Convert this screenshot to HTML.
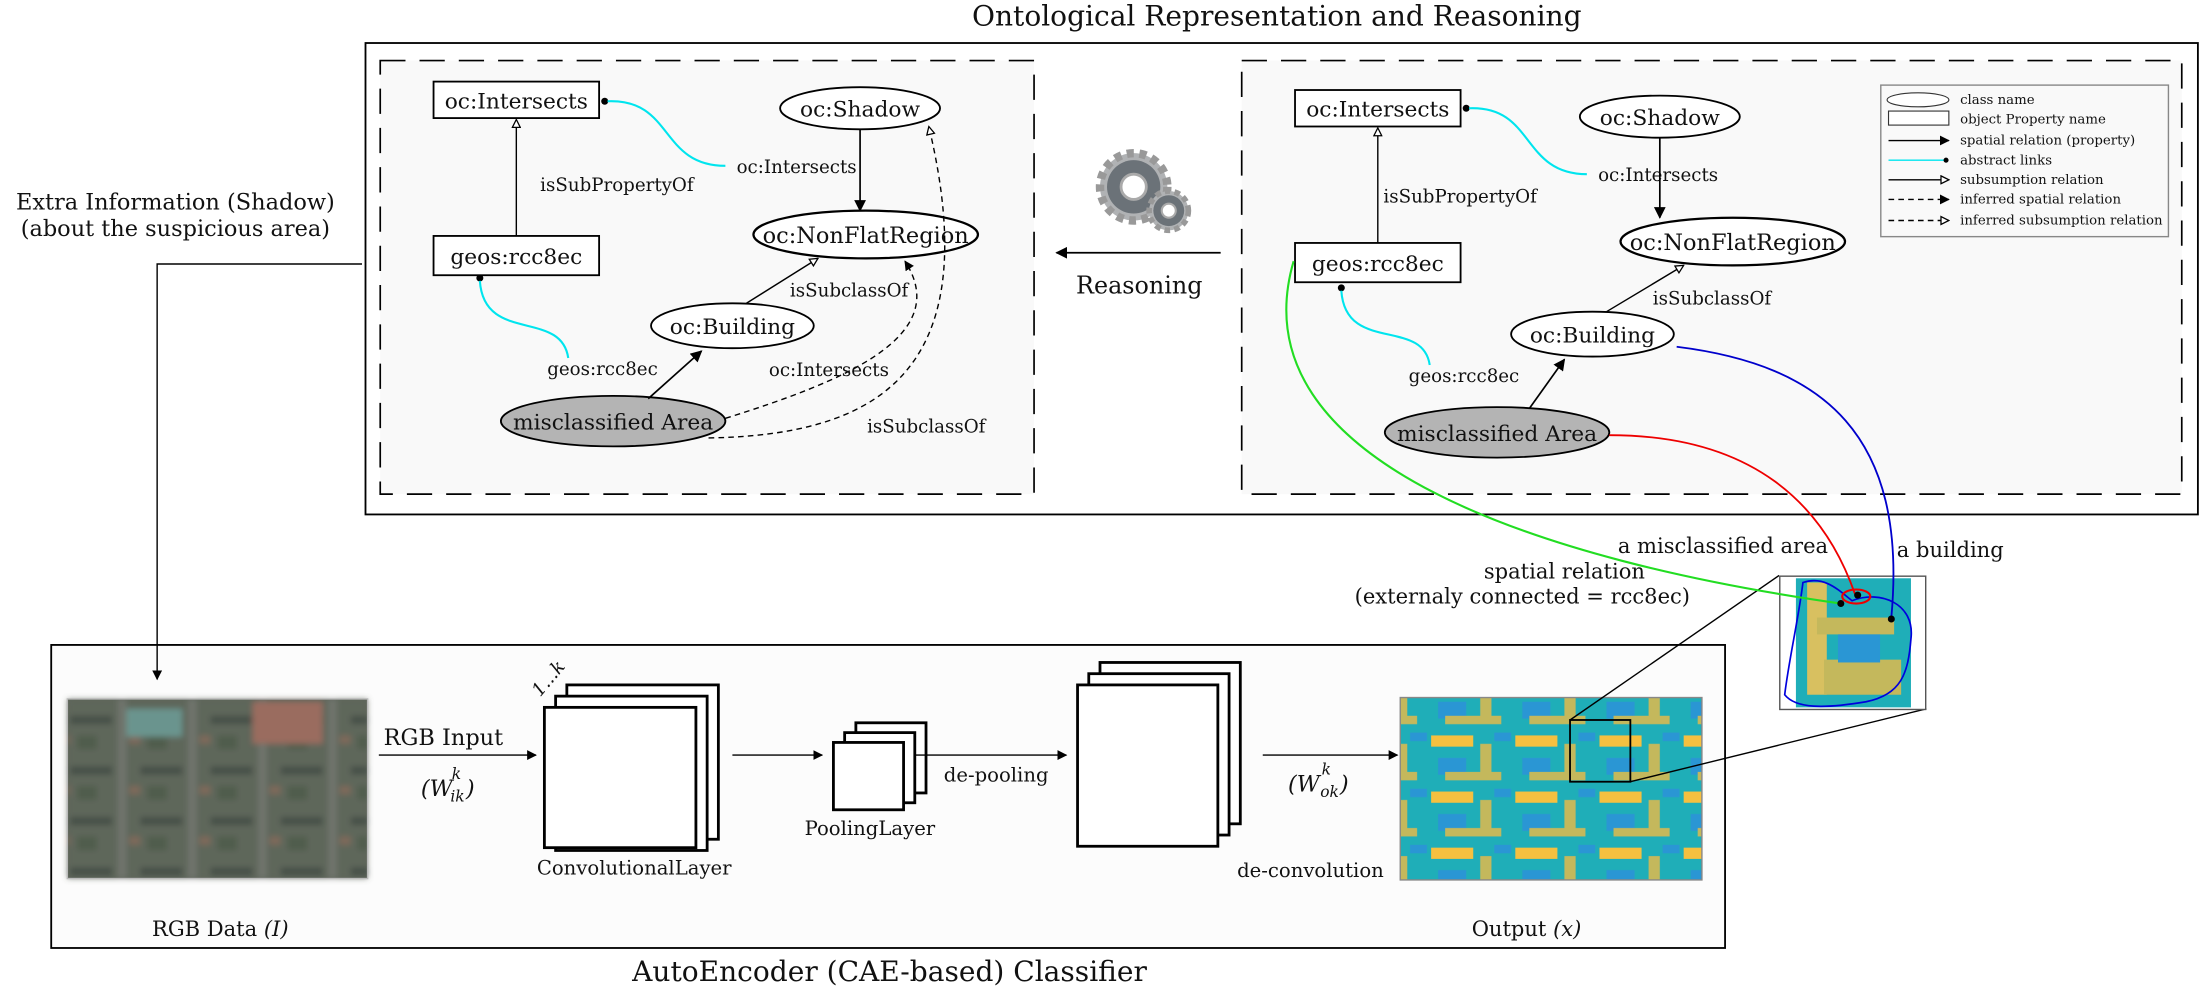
<!DOCTYPE html>
<html><head><meta charset="utf-8"><style>
html,body{margin:0;padding:0;background:#fff;}
svg{display:block;}
text{font-family:"DejaVu Serif","Liberation Serif",serif;fill:#111;}
</style></head><body>
<svg width="2200" height="991" viewBox="0 0 1568 706" xmlns="http://www.w3.org/2000/svg">
<defs>
<marker id="af" viewBox="0 0 10 10" refX="9" refY="5" markerWidth="7" markerHeight="7" orient="auto"><path d="M0,0 L10,5 L0,10 z" fill="#000"/></marker>
<marker id="ah" viewBox="0 0 10 10" refX="9" refY="5" markerWidth="7" markerHeight="7" orient="auto"><path d="M1,1 L9,5 L1,9 z" fill="#fff" stroke="#000" stroke-width="1.3"/></marker>
<filter id="blur"><feGaussianBlur stdDeviation="2"/></filter>
<pattern id="rgb" width="50" height="36" patternUnits="userSpaceOnUse">
<rect width="50" height="36" fill="#5d6558"/>
<rect x="0" y="6" width="30" height="6" fill="#3e4540"/><rect x="34" y="0" width="6" height="36" fill="#777b74"/>
<rect x="5" y="20" width="14" height="10" fill="#4b5a45"/><rect x="42" y="20" width="8" height="6" fill="#8a6a5a"/>
</pattern>
<pattern id="out" width="60" height="40" patternUnits="userSpaceOnUse">
<rect width="60" height="40" fill="#1faeb8"/>
<rect x="0" y="4" width="30" height="8" fill="#f5c040"/><rect x="35" y="10" width="8" height="25" fill="#c4b85c"/>
<rect x="5" y="20" width="20" height="12" fill="#2a96d4"/><rect x="10" y="30" width="40" height="6" fill="#c4b85c"/>
<rect x="45" y="2" width="12" height="6" fill="#2a96d4"/>
</pattern>
</defs>

<text x="910" y="18" font-size="20" text-anchor="middle">Ontological Representation and Reasoning</text>

<rect x="260.5" y="30.5" width="1306" height="336" fill="#fff" stroke="#000" stroke-width="1.3"/>
<rect x="271" y="43" width="466" height="309" fill="#f9f9f9" stroke="#000" stroke-width="1.2" stroke-dasharray="18,10"/>
<rect x="885" y="43" width="670" height="309" fill="#f9f9f9" stroke="#000" stroke-width="1.2" stroke-dasharray="18,10"/>

<!-- Left graph -->
<g>
<rect x="309" y="58" width="118" height="26" fill="#fff" stroke="#000" stroke-width="1.3"/>
<text x="368" y="77" font-size="15.5" text-anchor="middle">oc:Intersects</text>
<circle cx="431" cy="72" r="2.5"/>
<path d="M433,72 C480,70 470,118 517,118" fill="none" stroke="#00e5ee" stroke-width="1.5"/>
<text x="525" y="123" font-size="13">oc:Intersects</text>
<ellipse cx="613" cy="77" rx="57" ry="15" fill="#fff" stroke="#000" stroke-width="1.3"/>
<text x="613" y="83" font-size="15.5" text-anchor="middle">oc:Shadow</text>
<line x1="613" y1="92" x2="613" y2="150" stroke="#000" stroke-width="1.2" marker-end="url(#af)"/>
<ellipse cx="617" cy="167" rx="80" ry="17" fill="#fff" stroke="#000" stroke-width="1.6"/>
<text x="617" y="173" font-size="16" text-anchor="middle">oc:NonFlatRegion</text>
<line x1="368" y1="168" x2="368" y2="85" stroke="#000" stroke-width="1" marker-end="url(#ah)"/>
<text x="385" y="136" font-size="13">isSubPropertyOf</text>
<rect x="309" y="168" width="118" height="28" fill="#fff" stroke="#000" stroke-width="1.3"/>
<text x="368" y="188" font-size="15.5" text-anchor="middle">geos:rcc8ec</text>
<circle cx="342" cy="198" r="2.5"/>
<path d="M342,200 C345,245 400,220 405,255" fill="none" stroke="#00e5ee" stroke-width="1.5"/>
<text x="390" y="267" font-size="13">geos:rcc8ec</text>
<ellipse cx="522" cy="232" rx="58" ry="16" fill="#fff" stroke="#000" stroke-width="1.3"/>
<text x="522" y="238" font-size="15.5" text-anchor="middle">oc:Building</text>
<line x1="532" y1="216" x2="583" y2="184" stroke="#000" stroke-width="1" marker-end="url(#ah)"/>
<text x="563" y="211" font-size="13">isSubclassOf</text>
<ellipse cx="437" cy="300" rx="80" ry="18" fill="#b4b4b4" stroke="#000" stroke-width="1.3"/>
<text x="437" y="306" font-size="15.5" text-anchor="middle">misclassified Area</text>
<line x1="462" y1="284" x2="500" y2="250" stroke="#000" stroke-width="1.2" marker-end="url(#af)"/>
<path d="M517,298 C600,272 680,240 645,186" fill="none" stroke="#000" stroke-width="1" stroke-dasharray="4,3" marker-end="url(#af)"/>
<text x="548" y="268" font-size="13">oc:Intersects</text>
<path d="M505,312 C620,310 705,270 662,90" fill="none" stroke="#000" stroke-width="1" stroke-dasharray="4,3" marker-end="url(#ah)"/>
<text x="618" y="308" font-size="13">isSubclassOf</text>
</g>

<!-- Gears -->
<g transform="translate(808,133)">
<circle cx="0" cy="0" r="24" fill="#b0b2b4" stroke="#999" stroke-width="6" stroke-dasharray="5,4"/>
<circle cx="0" cy="0" r="19" fill="#6b7278"/>
<circle cx="0" cy="0" r="9" fill="#fff" stroke="#aaa" stroke-width="2"/>
<circle cx="25" cy="17" r="14" fill="#b0b2b4" stroke="#999" stroke-width="4" stroke-dasharray="4,3"/>
<circle cx="25" cy="17" r="11" fill="#6b7278"/>
<circle cx="25" cy="17" r="5" fill="#fff" stroke="#aaa" stroke-width="1.5"/>
</g>
<line x1="870" y1="180" x2="753" y2="180" stroke="#000" stroke-width="1.2" marker-end="url(#af)"/>
<text x="812" y="209" font-size="17" text-anchor="middle">Reasoning</text>

<!-- Right graph -->
<g>
<rect x="923" y="64" width="118" height="26" fill="#fff" stroke="#000" stroke-width="1.3"/>
<text x="982" y="83" font-size="15.5" text-anchor="middle">oc:Intersects</text>
<circle cx="1045" cy="77" r="2.5"/>
<path d="M1047,77 C1094,75 1084,124 1131,124" fill="none" stroke="#00e5ee" stroke-width="1.5"/>
<text x="1139" y="129" font-size="13">oc:Intersects</text>
<ellipse cx="1183" cy="83" rx="57" ry="15" fill="#fff" stroke="#000" stroke-width="1.3"/>
<text x="1183" y="89" font-size="15.5" text-anchor="middle">oc:Shadow</text>
<line x1="1183" y1="98" x2="1183" y2="155" stroke="#000" stroke-width="1.2" marker-end="url(#af)"/>
<ellipse cx="1235" cy="172" rx="80" ry="17" fill="#fff" stroke="#000" stroke-width="1.6"/>
<text x="1235" y="178" font-size="16" text-anchor="middle">oc:NonFlatRegion</text>
<line x1="982" y1="173" x2="982" y2="91" stroke="#000" stroke-width="1" marker-end="url(#ah)"/>
<text x="986" y="144" font-size="13">isSubPropertyOf</text>
<rect x="923" y="173" width="118" height="28" fill="#fff" stroke="#000" stroke-width="1.3"/>
<text x="982" y="193" font-size="15.5" text-anchor="middle">geos:rcc8ec</text>
<circle cx="956" cy="205" r="2.5"/>
<path d="M956,207 C959,252 1014,226 1019,260" fill="none" stroke="#00e5ee" stroke-width="1.5"/>
<text x="1004" y="272" font-size="13">geos:rcc8ec</text>
<ellipse cx="1135" cy="238" rx="58" ry="16" fill="#fff" stroke="#000" stroke-width="1.3"/>
<text x="1135" y="244" font-size="15.5" text-anchor="middle">oc:Building</text>
<line x1="1145" y1="222" x2="1200" y2="189" stroke="#000" stroke-width="1" marker-end="url(#ah)"/>
<text x="1178" y="217" font-size="13">isSubclassOf</text>
<ellipse cx="1067" cy="308" rx="80" ry="18" fill="#b4b4b4" stroke="#000" stroke-width="1.3"/>
<text x="1067" y="314" font-size="15.5" text-anchor="middle">misclassified Area</text>
<line x1="1090" y1="291" x2="1115" y2="256" stroke="#000" stroke-width="1.2" marker-end="url(#af)"/>
</g>

<!-- Legend -->
<g font-size="9.5">
<rect x="1340.5" y="60.5" width="205" height="108" fill="#f9f9f9" stroke="#888" stroke-width="1"/>
<ellipse cx="1367" cy="71" rx="22" ry="5" fill="#fff" stroke="#333" stroke-width="0.8"/>
<text x="1397" y="74">class name</text>
<rect x="1346" y="79" width="43" height="10" fill="#fff" stroke="#333" stroke-width="0.8"/>
<text x="1397" y="88">object Property name</text>
<line x1="1346" y1="100" x2="1389" y2="100" stroke="#000" stroke-width="1" marker-end="url(#af)"/>
<text x="1397" y="103">spatial relation (property)</text>
<line x1="1346" y1="114" x2="1387" y2="114" stroke="#00e5ee" stroke-width="1"/><circle cx="1387" cy="114" r="1.8"/>
<text x="1397" y="117">abstract links</text>
<line x1="1346" y1="128" x2="1389" y2="128" stroke="#000" stroke-width="1" marker-end="url(#ah)"/>
<text x="1397" y="131">subsumption relation</text>
<line x1="1346" y1="142" x2="1389" y2="142" stroke="#000" stroke-width="1" stroke-dasharray="4,3" marker-end="url(#af)"/>
<text x="1397" y="145">inferred spatial relation</text>
<line x1="1346" y1="157" x2="1389" y2="157" stroke="#000" stroke-width="1" stroke-dasharray="4,3" marker-end="url(#ah)"/>
<text x="1397" y="160">inferred subsumption relation</text>
</g>

<!-- Extra info -->
<text x="125" y="149" font-size="16" text-anchor="middle">Extra Information (Shadow)</text>
<text x="125" y="168" font-size="16" text-anchor="middle">(about the suspicious area)</text>

<!-- Bottom box -->
<rect x="36.5" y="459.5" width="1193" height="216" fill="#fcfcfc" stroke="#000" stroke-width="1.3"/>
<polyline points="258,188 112,188 112,484" fill="none" stroke="#000" stroke-width="1" marker-end="url(#af)"/>
<text x="634" y="699" font-size="20" text-anchor="middle">AutoEncoder (CAE-based) Classifier</text>

<g>
<rect x="48" y="498" width="214" height="128" fill="#5f665c"/>
<g filter="url(#blur)">
<rect x="48" y="498" width="214" height="128" fill="url(#rgb)" opacity="0.7"/>
<rect x="180" y="500" width="50" height="30" fill="#9a6c5e"/>
<rect x="90" y="505" width="40" height="20" fill="#6a948e"/>
</g>
<rect x="48" y="498" width="214" height="128" fill="none" stroke="#bbb"/>
</g>
<text x="157" y="667" font-size="15" text-anchor="middle">RGB Data <tspan font-style="italic">(I)</tspan></text>

<line x1="270" y1="538" x2="382" y2="538" stroke="#000" stroke-width="1" marker-end="url(#af)"/>
<text x="316" y="531" font-size="16" text-anchor="middle">RGB Input</text>
<text x="300" y="567" font-size="16" font-style="italic">(W</text>
<text x="322" y="555" font-size="11" font-style="italic">k</text>
<text x="321" y="571" font-size="11" font-style="italic">ik</text>
<text x="332" y="567" font-size="16" font-style="italic">)</text>

<g fill="#fff" stroke="#000" stroke-width="2">
<rect x="404" y="488" width="108" height="110"/>
<rect x="396" y="496" width="108" height="110"/>
<rect x="388" y="504" width="108" height="100"/>
</g>
<text x="385" y="497" font-size="13" font-style="italic" transform="rotate(-50 385 497)">1...k</text>
<text x="452" y="623" font-size="14" text-anchor="middle">ConvolutionalLayer</text>

<line x1="522" y1="538" x2="586" y2="538" stroke="#000" stroke-width="1" marker-end="url(#af)"/>
<g fill="#fff" stroke="#000" stroke-width="2">
<rect x="610" y="515" width="50" height="50"/>
<rect x="602" y="522" width="50" height="50"/>
<rect x="594" y="529" width="50" height="48"/>
</g>
<text x="620" y="595" font-size="14" text-anchor="middle">PoolingLayer</text>

<line x1="652" y1="538" x2="760" y2="538" stroke="#000" stroke-width="1" marker-end="url(#af)"/>
<text x="710" y="557" font-size="14" text-anchor="middle">de-pooling</text>

<g fill="#fff" stroke="#000" stroke-width="2">
<rect x="784" y="472" width="100" height="115"/>
<rect x="776" y="480" width="100" height="115"/>
<rect x="768" y="488" width="100" height="115"/>
</g>
<text x="934" y="625" font-size="14" text-anchor="middle">de-convolution</text>
<line x1="900" y1="538" x2="996" y2="538" stroke="#000" stroke-width="1" marker-end="url(#af)"/>
<text x="918" y="564" font-size="16" font-style="italic">(W</text>
<text x="942" y="552" font-size="11" font-style="italic">k</text>
<text x="941" y="568" font-size="11" font-style="italic">ok</text>
<text x="955" y="564" font-size="16" font-style="italic">)</text>

<rect x="998" y="497" width="215" height="130" fill="url(#out)" stroke="#888"/>
<text x="1088" y="667" font-size="15" text-anchor="middle">Output <tspan font-style="italic">(x)</tspan></text>
<rect x="1119" y="513" width="43" height="44" fill="none" stroke="#000" stroke-width="1.3"/>
<line x1="1119" y1="513" x2="1268" y2="410" stroke="#000" stroke-width="1"/>
<line x1="1162" y1="557" x2="1373" y2="505" stroke="#000" stroke-width="1"/>

<!-- Inset -->
<rect x="1268.5" y="410.5" width="104" height="95" fill="#fff" stroke="#555" stroke-width="1"/>
<rect x="1280" y="412" width="82" height="92" fill="#1faeb8"/>
<rect x="1288" y="415" width="14" height="80" fill="#d8c060"/>
<rect x="1295" y="440" width="55" height="12" fill="#c4b85c"/>
<rect x="1300" y="470" width="55" height="25" fill="#c4b85c"/>
<rect x="1310" y="452" width="30" height="20" fill="#2a96d4"/>
<path d="M1285,415 C1300,410 1310,420 1320,428 C1340,420 1365,430 1362,455 C1360,480 1355,495 1330,500 C1300,505 1280,505 1272,495 C1275,470 1282,440 1285,415 z" fill="none" stroke="#0000dd" stroke-width="1.2"/>
<ellipse cx="1323" cy="425" rx="10" ry="5" fill="none" stroke="#e00" stroke-width="1.5"/>

<!-- colored links -->
<path d="M922,186 C880,330 1100,400 1312,430" fill="none" stroke="#22dd22" stroke-width="1.5"/>
<path d="M1147,310 C1250,310 1300,360 1322,423" fill="none" stroke="#e00" stroke-width="1.3"/>
<path d="M1195,247 C1300,260 1360,310 1348,440" fill="none" stroke="#0000cc" stroke-width="1.3"/>
<circle cx="1312" cy="430" r="2.5"/><circle cx="1324" cy="424" r="2.5"/><circle cx="1348" cy="441" r="2.5"/>
<text x="1228" y="394" font-size="15" text-anchor="middle">a misclassified area</text>
<text x="1390" y="397" font-size="15" text-anchor="middle">a building</text>
<text x="1115" y="412" font-size="15" text-anchor="middle">spatial relation</text>
<text x="1085" y="430" font-size="15" text-anchor="middle">(externaly connected = rcc8ec)</text>
</svg>
</body></html>
